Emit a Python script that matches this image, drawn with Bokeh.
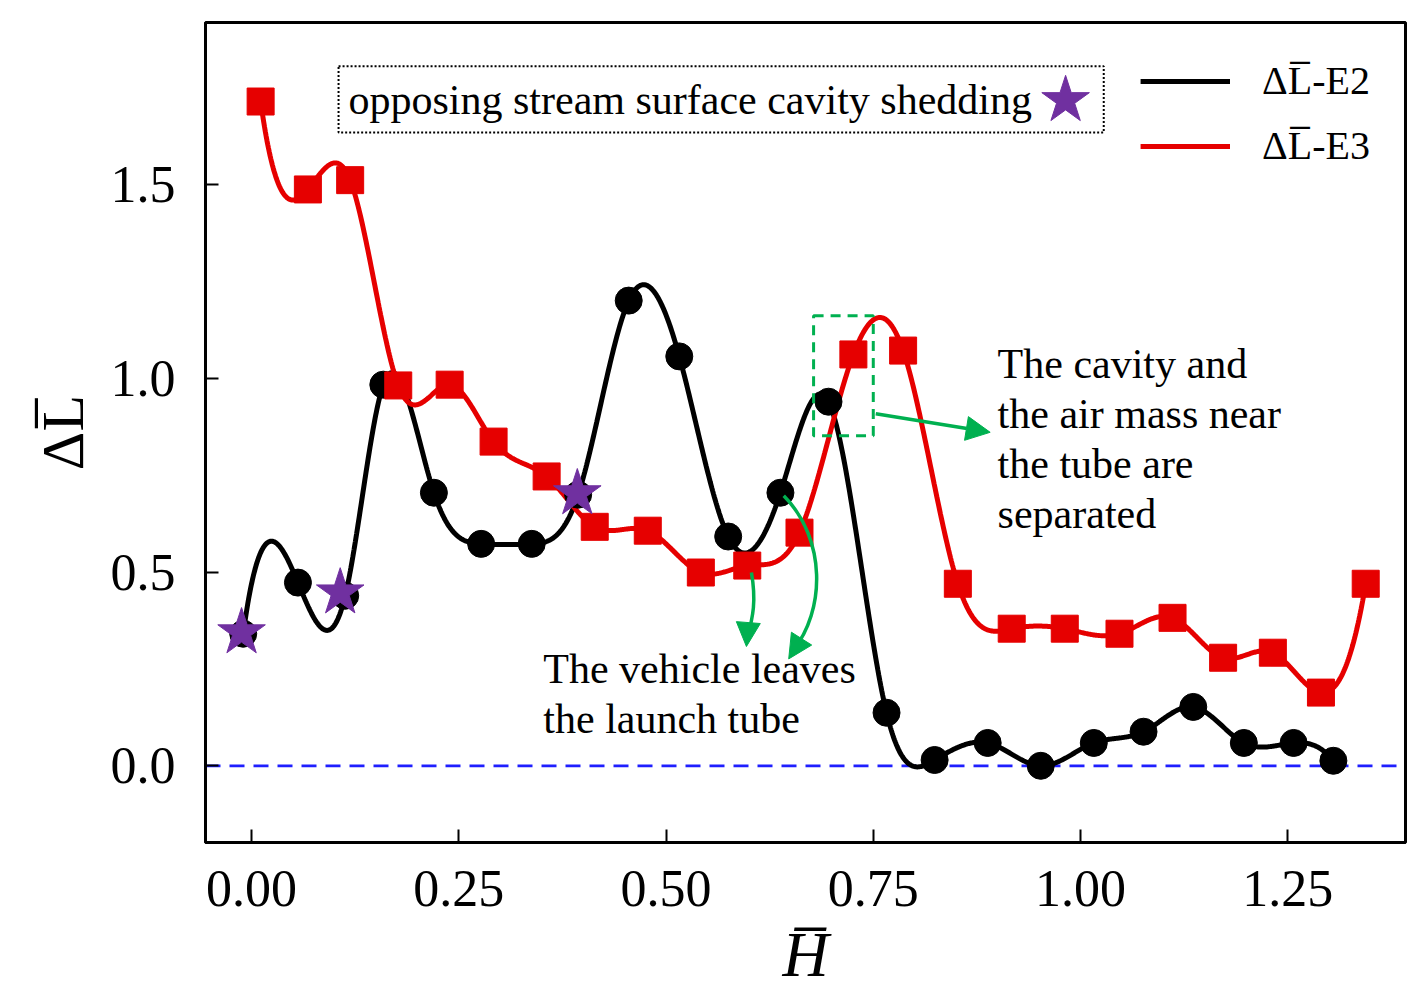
import numpy as np
from bokeh.plotting import figure
from bokeh.models import (Range1d, FixedTicker, PrintfTickFormatter, Span, Label,
                          BoxAnnotation, Arrow, NormalHead, Legend, LegendItem)
from bokeh.embed import file_html
from bokeh.resources import INLINE

# ---------------- data ----------------
e2_x = [-0.010, 0.056, 0.113, 0.159, 0.220, 0.277, 0.338, 0.394, 0.455, 0.516,
        0.575, 0.638, 0.696, 0.766, 0.824, 0.888, 0.952, 1.016, 1.076, 1.136,
        1.197, 1.257, 1.305]
e2_y = [0.341, 0.473, 0.439, 0.984, 0.705, 0.573, 0.573, 0.700, 1.201, 1.057,
        0.592, 0.705, 0.940, 0.137, 0.015, 0.059, 0.000, 0.059, 0.088, 0.152,
        0.059, 0.059, 0.013]

e3_x = [0.011, 0.068, 0.119, 0.177, 0.239, 0.292, 0.356, 0.414, 0.478, 0.542,
        0.598, 0.661, 0.726, 0.786, 0.852, 0.917, 0.981, 1.047, 1.111, 1.172,
        1.232, 1.290, 1.344]
e3_y = [1.715, 1.488, 1.512, 0.982, 0.984, 0.837, 0.747, 0.617, 0.607, 0.499,
        0.517, 0.602, 1.062, 1.072, 0.470, 0.354, 0.354, 0.341, 0.382, 0.279,
        0.292, 0.189, 0.470]

shed_x = [-0.012, 0.107, 0.393]
shed_y = [0.344, 0.447, 0.703]

x_ticks = [0.0, 0.25, 0.5, 0.75, 1.0, 1.25]
y_ticks = [0.0, 0.5, 1.0, 1.5]

series_labels = ["\u0394L\u0305-E2", "\u0394L\u0305-E3"]
x_title = "H\u0305"
y_title = "\u0394L\u0305"
box_text = "opposing stream surface cavity shedding"
cavity_lines = ["The cavity and", "the air mass near", "the tube are", "separated"]
vehicle_lines = ["The vehicle leaves", "the launch tube"]

RED = "#e60000"
GREEN = "#00b050"
PURPLE = "#7030a0"
SERIF = "Liberation Serif"


def spline(xs, ys, n=60):
    """not-a-knot cubic spline through the given points (smooth rendering)."""
    x = np.asarray(xs, float)
    y = np.asarray(ys, float)
    m = len(x)
    h = np.diff(x)
    A = np.zeros((m, m))
    b = np.zeros(m)
    A[0, 0], A[0, 1], A[0, 2] = h[1], -(h[0] + h[1]), h[0]
    A[-1, -3], A[-1, -2], A[-1, -1] = h[-1], -(h[-2] + h[-1]), h[-2]
    for i in range(1, m - 1):
        A[i, i - 1] = h[i - 1]
        A[i, i] = 2 * (h[i - 1] + h[i])
        A[i, i + 1] = h[i]
        b[i] = 6 * ((y[i + 1] - y[i]) / h[i] - (y[i] - y[i - 1]) / h[i - 1])
    M = np.linalg.solve(A, b)
    xo, yo = [], []
    for i in range(m - 1):
        t = np.linspace(x[i], x[i + 1], n, endpoint=(i == m - 2))
        hi = h[i]
        s = (M[i] * (x[i + 1] - t) ** 3 / (6 * hi) + M[i + 1] * (t - x[i]) ** 3 / (6 * hi)
             + (y[i] / hi - M[i] * hi / 6) * (x[i + 1] - t)
             + (y[i + 1] / hi - M[i + 1] * hi / 6) * (t - x[i]))
        xo.extend(t.tolist())
        yo.extend(s.tolist())
    return xo, yo


p = figure(frame_width=1200, frame_height=820, output_backend="svg", toolbar_location=None,
           x_range=Range1d(-0.0555, 1.392), y_range=Range1d(-0.198, 1.919),
           min_border_left=205, min_border_right=14, min_border_top=22,
           min_border_bottom=150)
p.background_fill_color = "white"
p.border_fill_color = "white"
p.outline_line_color = "black"
p.outline_line_width = 3
p.xgrid.visible = False
p.ygrid.visible = False

for ax in (p.xaxis[0], p.yaxis[0]):
    ax.axis_line_width = 3
    ax.major_tick_in = 13
    ax.major_tick_out = 0
    ax.major_tick_line_width = 2
    ax.minor_tick_line_color = None
    ax.major_label_text_font = SERIF
    ax.major_label_text_font_size = "52px"
    ax.major_label_text_color = "black"
    ax.axis_label_text_font = SERIF
    ax.axis_label_text_color = "black"
p.xaxis.ticker = FixedTicker(ticks=x_ticks)
p.yaxis.ticker = FixedTicker(ticks=y_ticks)
p.xaxis.formatter = PrintfTickFormatter(format="%.2f")
p.yaxis.formatter = PrintfTickFormatter(format="%.1f")
p.xaxis.major_label_standoff = 28
p.yaxis.major_label_standoff = 30

p.xaxis.axis_label = x_title
p.xaxis.axis_label_text_font_size = "64px"
p.xaxis.axis_label_text_font_style = "italic"
p.xaxis.axis_label_standoff = 10
p.yaxis.axis_label = y_title
p.yaxis.axis_label_text_font_size = "60px"
p.yaxis.axis_label_text_font_style = "normal"
p.yaxis.axis_label_standoff = 12

# zero line
p.add_layout(Span(location=0, dimension="width", line_color="#1f1fff",
                  line_dash="15 9", line_width=2.8, level="underlay"))

# smooth curves
sx2, sy2 = spline(e2_x, e2_y)
sx3, sy3 = spline(e3_x, e3_y)
l2 = p.line(sx2, sy2, line_color="black", line_width=5)
l3 = p.line(sx3, sy3, line_color=RED, line_width=5)

p.scatter(e2_x, e2_y, marker="circle", size=27, fill_color="black", line_color="black")
p.scatter(e3_x, e3_y, marker="square", size=27, fill_color=RED, line_color=RED)
p.scatter(shed_x, shed_y, marker="star", size=50, fill_color=PURPLE, line_color=PURPLE)

legend = Legend(items=[LegendItem(label=series_labels[0], renderers=[l2]),
                       LegendItem(label=series_labels[1], renderers=[l3])],
                location="top_right", border_line_color=None,
                background_fill_alpha=0, margin=35, padding=0,
                glyph_width=90, glyph_height=40, label_height=40, spacing=18,
                label_standoff=32, label_text_font=SERIF,
                label_text_font_size="40px", label_text_color="black")
p.add_layout(legend)

# dotted box annotation with star
p.add_layout(BoxAnnotation(left=0.105, right=1.028, bottom=1.635, top=1.806,
                           fill_alpha=0, line_color="black", line_alpha=1,
                           line_width=2, line_dash="2 2"))
p.add_layout(Label(x=0.117, y=1.718, text=box_text, text_font=SERIF,
                   text_font_size="42px", text_color="black",
                   text_baseline="middle", text_align="left"))
p.scatter([0.982], [1.718], marker="star", size=50, fill_color=PURPLE, line_color=PURPLE)

# green dashed box and arrow
p.add_layout(BoxAnnotation(left=0.678, right=0.750, bottom=0.852, top=1.162,
                           fill_alpha=0, line_color=GREEN, line_alpha=1, line_width=3,
                           line_dash="10 7"))
p.add_layout(Arrow(x_start=0.753, y_start=0.909, x_end=0.891, y_end=0.861,
                   line_color=GREEN, line_width=3.5,
                   end=NormalHead(size=24, fill_color=GREEN, line_color=GREEN)))

# curved arrows to "The vehicle leaves"
p.bezier(x0=[0.603, 0.642], y0=[0.499, 0.697], x1=[0.598, 0.653], y1=[0.330, 0.297],
         cx0=[0.609, 0.694], cy0=[0.426, 0.585], cx1=[0.605, 0.692], cy1=[0.385, 0.400],
         line_color=GREEN, line_width=3.5)
p.add_layout(Arrow(x_start=0.598, y_start=0.335, x_end=0.597, y_end=0.308,
                   line_color=GREEN, line_width=3.5,
                   end=NormalHead(size=24, fill_color=GREEN, line_color=GREEN)))
p.add_layout(Arrow(x_start=0.656, y_start=0.303, x_end=0.648, y_end=0.276,
                   line_color=GREEN, line_width=3.5,
                   end=NormalHead(size=24, fill_color=GREEN, line_color=GREEN)))

for i, t in enumerate(cavity_lines):
    p.add_layout(Label(x=0.900, y=1.038 - i * 0.1297, text=t, text_font=SERIF,
                       text_font_size="42px", text_color="black",
                       text_baseline="middle", text_align="left"))
for i, t in enumerate(vehicle_lines):
    p.add_layout(Label(x=0.352, y=0.251 - i * 0.1297, text=t, text_font=SERIF,
                       text_font_size="42px", text_color="black",
                       text_baseline="middle", text_align="left"))

open("out.html", "w").write(file_html(p, INLINE))
